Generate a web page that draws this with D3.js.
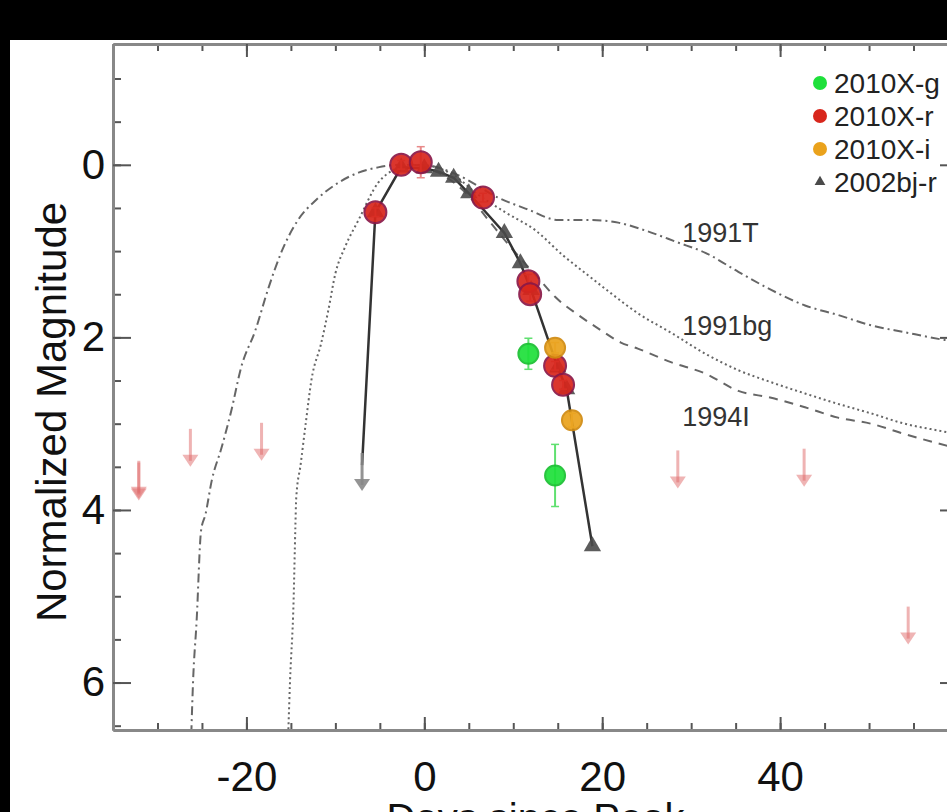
<!DOCTYPE html>
<html>
<head>
<meta charset="utf-8">
<script src="https://cdn.jsdelivr.net/npm/d3@7"></script>
<style>
  body { margin: 0; background: #000; }
  svg { display: block; font-family: "Liberation Sans", Arial, Helvetica, sans-serif; }
</style>
</head>
<body>
<svg id="chart" width="947" height="812"></svg>
<script>
// 2010X photometry, normalized magnitude vs days since peak
const gDays = [11.7, 14.7];
const gMags = [2.19, 3.6];
const gErrs = [0.18, 0.36];

const rDays = [-5.5, -2.6, -0.4, 6.6, 11.7, 11.9, 14.7, 15.6];
const rMags = [0.55, 0.0, -0.03, 0.38, 1.35, 1.5, 2.33, 2.55];
const rErrs = [0.05, 0.05, 0.18, 0.05, 0.08, 0.08, 0.05, 0.05];

const iDays = [14.7, 16.6];
const iMags = [2.12, 2.96];
const iErrs = [0.06, 0.08];

// r-band non-detections (arrow tails)
const rLimDays = [-32.1, -32.1, -26.3, -18.3, 28.5, 42.7, 54.4];
const rLimMags = [3.43, 3.45, 3.06, 2.99, 3.31, 3.29, 5.12];

// 2002bj r-band, first entry is the pre-discovery limit
const bjLimDay = -7.0;
const bjLimMag = 3.78;
const bjDays = [-5.5, -2.6, 0.0, 1.6, 3.3, 5.0, 9.0, 10.8, 12.0, 15.0, 16.0, 18.9];
const bjMags = [0.55, 0.03, 0.04, 0.08, 0.15, 0.33, 0.79, 1.14, 1.45, 2.35, 2.6, 4.42];

// template light curves
const t91TDays = [-26.2, -26.0, -25.6, -25.1, -24.6, -23.9, -22.8, -21.7, -20.6, -19.0, -17.5, -16.1, -14.2, -12.2, -9.7, -7.4, -5.2, -2.9, 0.4, 3.8, 8.3, 11.7, 15.1, 18.8, 21.8, 24.8, 28.5, 31.6, 35.3, 39.0, 42.8, 46.5, 50.2, 54.0, 58.5, 62.0];
const t91TMags = [6.6, 5.99, 5.29, 4.24, 4.05, 3.66, 3.28, 2.85, 2.35, 1.92, 1.42, 1.02, 0.64, 0.41, 0.21, 0.09, 0.03, 0.0, 0.01, 0.12, 0.38, 0.52, 0.64, 0.64, 0.67, 0.76, 0.9, 1.02, 1.24, 1.45, 1.63, 1.74, 1.86, 1.94, 2.03, 2.08];

const t91bgDays = [-15.3, -15.1, -14.7, -14.5, -14.4, -13.9, -13.3, -12.7, -11.6, -10.8, -10.0, -8.9, -7.4, -5.2, -3.5, -1.6, 0.4, 3.3, 6.1, 9.1, 12.5, 15.6, 18.4, 21.0, 24.0, 27.8, 31.6, 35.3, 39.0, 42.8, 46.5, 50.2, 54.0, 57.8, 62.0];
const t91bgMags = [6.6, 5.99, 5.06, 4.21, 3.86, 3.47, 2.97, 2.5, 2.07, 1.69, 1.26, 0.95, 0.64, 0.21, 0.06, 0.0, 0.01, 0.12, 0.35, 0.55, 0.76, 1.05, 1.28, 1.49, 1.72, 1.95, 2.19, 2.38, 2.52, 2.65, 2.77, 2.88, 3.0, 3.08, 3.16];

const t94IDays = [-0.7, 2.1, 4.9, 7.2, 10.0, 12.8, 14.7, 17.3, 19.9, 22.1, 24.0, 27.8, 31.6, 35.3, 39.0, 42.8, 46.5, 50.2, 54.0, 57.8, 62.0];
const t94IMags = [0.0, 0.12, 0.35, 0.64, 0.99, 1.31, 1.53, 1.74, 1.92, 2.06, 2.13, 2.29, 2.42, 2.62, 2.7, 2.81, 2.93, 3.0, 3.12, 3.23, 3.34];

const modelNames = ["1991T", "1991bg", "1994I"];
const legendNames = ["2010X-g", "2010X-r", "2010X-i", "2002bj-r"];
const xTickValues = [-20, 0, 20, 40];
const yTickValues = [0, 2, 4, 6];

const svg = d3.select("#chart");
const W = 947, H = 812;
const plot = { left: 113, right: 958, top: 44, bottom: 730 };

svg.append("rect").attr("width", W).attr("height", H).attr("fill", "#000");
svg.append("rect").attr("x", 10).attr("y", 40).attr("width", W - 10).attr("height", H - 40).attr("fill", "#fff");

const x = d3.scaleLinear().domain([-35, 60]).range([plot.left, plot.right]);
const y = d3.scaleLinear().domain([-1.4, 6.55]).range([plot.top, plot.bottom]);

svg.append("clipPath").attr("id", "plotClip")
    .append("rect")
    .attr("x", plot.left).attr("y", plot.top)
    .attr("width", plot.right - plot.left).attr("height", plot.bottom - plot.top);

const zip = (ds, ms) => ds.map((d, i) => [d, ms[i]]);
const line = d3.line().x(d => x(d[0])).y(d => y(d[1]));

// template curves
const models = [
    { days: t91TDays, mags: t91TMags, dash: "9,4,2,4" },
    { days: t91bgDays, mags: t91bgMags, dash: "2,3" },
    { days: t94IDays, mags: t94IMags, dash: "9,7" }
];
const modelG = svg.append("g").attr("clip-path", "url(#plotClip)");
models.forEach(m => {
    modelG.append("path")
        .datum(zip(m.days, m.mags))
        .attr("d", line.curve(d3.curveMonotoneX))
        .attr("fill", "none")
        .attr("stroke", "#666")
        .attr("stroke-width", 2)
        .attr("stroke-dasharray", m.dash);
});
line.curve(d3.curveLinear);

const labelAt = [[29, 0.78], [29, 1.86], [29, 2.92]];
modelNames.forEach((name, i) => {
    svg.append("text")
        .attr("x", x(labelAt[i][0]))
        .attr("y", y(labelAt[i][1]))
        .attr("dy", "0.36em")
        .attr("font-size", 27)
        .attr("fill", "#333")
        .text(name);
});

// down-pointing limit arrow
function arrow(g, d, m, color, opacity) {
    const cx = x(d), y0 = y(m), tip = y(m + 0.44);
    g.append("line")
        .attr("x1", cx).attr("x2", cx)
        .attr("y1", y0).attr("y2", tip - 6)
        .attr("stroke", color).attr("stroke-width", 3)
        .attr("opacity", opacity);
    g.append("path")
        .attr("d", `M${cx - 8},${tip - 12}L${cx + 8},${tip - 12}L${cx},${tip}Z`)
        .attr("fill", color)
        .attr("opacity", opacity);
}

// 2002bj
const bjG = svg.append("g");
bjG.append("path")
    .datum([[bjLimDay, bjLimMag - 0.3]].concat(zip(bjDays, bjMags)))
    .attr("d", line)
    .attr("fill", "none")
    .attr("stroke", "#333")
    .attr("stroke-width", 2.5);
arrow(bjG, bjLimDay, bjLimMag - 0.44, "#888", 0.9);
const tri = d3.symbol().type(d3.symbolTriangle).size(130);
bjG.selectAll(".tri")
    .data(zip(bjDays, bjMags))
    .join("path")
    .attr("class", "tri")
    .attr("transform", d => `translate(${x(d[0])},${y(d[1])})`)
    .attr("d", tri)
    .attr("fill", "#4a4a4a")
    .attr("opacity", 0.9);

// r-band limits
const limG = svg.append("g");
rLimDays.forEach((d, i) => arrow(limG, d, rLimMags[i], "#e06a6a", 0.5));

// 2010X detections with error bars
function points(days, mags, errs, fill, stroke, r, errColor) {
    const g = svg.append("g");
    days.forEach((d, i) => {
        const cx = x(d);
        g.append("line")
            .attr("x1", cx).attr("x2", cx)
            .attr("y1", y(mags[i] - errs[i])).attr("y2", y(mags[i] + errs[i]))
            .attr("stroke", errColor).attr("stroke-width", 2);
        [mags[i] - errs[i], mags[i] + errs[i]].forEach(v => {
            g.append("line")
                .attr("x1", cx - 4).attr("x2", cx + 4)
                .attr("y1", y(v)).attr("y2", y(v))
                .attr("stroke", errColor).attr("stroke-width", 1.5);
        });
    });
    g.selectAll("circle")
        .data(zip(days, mags))
        .join("circle")
        .attr("cx", d => x(d[0]))
        .attr("cy", d => y(d[1]))
        .attr("r", r)
        .attr("fill", fill)
        .attr("stroke", stroke)
        .attr("stroke-width", 2)
        .attr("opacity", 0.92);
}
points(rDays, rMags, rErrs, "#d8261c", "#8a1848", 11, "#e88a8a");
points(iDays, iMags, iErrs, "#eaa21c", "#d08a10", 10, "#f0c070");
points(gDays, gMags, gErrs, "#1ee03a", "#18c030", 10, "#60e070");

// axes: major and minor ticks on all four sides, pointing inward
const axisG = svg.append("g").attr("font-size", 42).attr("font-family", "'Liberation Sans', Arial, sans-serif");
const minorX = d3.range(-35, 61, 5);
const minorY = d3.range(-1, 6.51, 0.5);

function styleAxis(g) {
    g.select(".domain").attr("stroke", "#888").attr("stroke-width", 3);
    g.selectAll(".tick line").attr("stroke", "#555").attr("stroke-width", 2);
    g.selectAll(".tick text").attr("fill", "#111");
}

axisG.append("g").attr("transform", `translate(0,${plot.bottom})`)
    .call(d3.axisBottom(x).tickValues(minorX).tickSize(-7).tickFormat("").tickSizeOuter(0)).call(styleAxis);
axisG.append("g").attr("transform", `translate(0,${plot.bottom})`)
    .call(d3.axisBottom(x).tickValues(xTickValues).tickSize(-13).tickPadding(31).tickSizeOuter(0)
        .tickFormat(d => d < 0 ? "-" + Math.abs(d) : d)).call(styleAxis);
axisG.append("g").attr("transform", `translate(0,${plot.top})`)
    .call(d3.axisTop(x).tickValues(minorX).tickSize(-7).tickFormat("").tickSizeOuter(0)).call(styleAxis);
axisG.append("g").attr("transform", `translate(0,${plot.top})`)
    .call(d3.axisTop(x).tickValues(xTickValues).tickSize(-13).tickFormat("").tickSizeOuter(0)).call(styleAxis);

axisG.append("g").attr("transform", `translate(${plot.left},0)`)
    .call(d3.axisLeft(y).tickValues(minorY).tickSize(-8).tickFormat("").tickSizeOuter(0)).call(styleAxis);
axisG.append("g").attr("transform", `translate(${plot.left},0)`)
    .call(d3.axisLeft(y).tickValues(yTickValues).tickSize(-18).tickPadding(8).tickSizeOuter(0)).call(styleAxis);
axisG.append("g").attr("transform", `translate(${plot.right},0)`)
    .call(d3.axisRight(y).tickValues(minorY).tickSize(-8).tickFormat("").tickSizeOuter(0)).call(styleAxis);
axisG.append("g").attr("transform", `translate(${plot.right},0)`)
    .call(d3.axisRight(y).tickValues(yTickValues).tickSize(-18).tickFormat("").tickSizeOuter(0)).call(styleAxis);

axisG.selectAll(".tick text").attr("font-size", 42);

svg.append("text")
    .attr("transform", `translate(66,412) rotate(-90)`)
    .attr("text-anchor", "middle")
    .attr("font-size", 42)
    .attr("fill", "#111")
    .text("Normalized Magnitude");

svg.append("text")
    .attr("x", (plot.left + plot.right) / 2)
    .attr("y", 832)
    .attr("text-anchor", "middle")
    .attr("font-size", 40)
    .attr("fill", "#111")
    .text("Days since Peak");

// legend
const legendColors = ["#1ee03a", "#d8261c", "#eaa21c", "#4a4a4a"];
const legend = svg.append("g").attr("transform", "translate(820,83)");
legendNames.forEach((name, i) => {
    const row = legend.append("g").attr("transform", `translate(0,${i * 33})`);
    if (i < 3) {
        row.append("circle").attr("r", 7).attr("fill", legendColors[i]);
    } else {
        row.append("path").attr("d", d3.symbol().type(d3.symbolTriangle).size(50)).attr("fill", legendColors[i]);
    }
    row.append("text")
        .attr("x", 14)
        .attr("dy", "0.36em")
        .attr("font-size", 28)
        .attr("fill", "#222")
        .text(name);
});
</script>
</body>
</html>
